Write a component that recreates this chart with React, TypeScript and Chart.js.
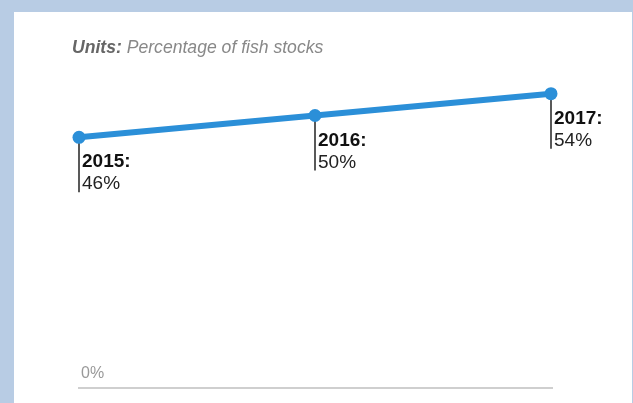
import React, { useEffect, useRef } from "react";
import { Chart, registerables } from "chart.js";

Chart.register(...registerables);

const years: string[] = ["2015", "2016", "2017"];
const values: number[] = [46, 50, 54];
const unitsLabel = "Units:";
const unitsText = " Percentage of fish stocks";
const baselineLabel = "0%";
const yMin = 0;
const yMax = 60;

const FONT = "'Liberation Sans', Arial, Helvetica, sans-serif";

const overlayPlugin = {
  id: "overlay",
  beforeDatasetsDraw(chart: any) {
    const ctx = chart.ctx as CanvasRenderingContext2D;
    const meta = chart.getDatasetMeta(0);
    ctx.save();
    meta.data.forEach((pt: any) => {
      ctx.strokeStyle = "#222";
      ctx.lineWidth = 1.5;
      ctx.beginPath();
      ctx.moveTo(pt.x, pt.y);
      ctx.lineTo(pt.x, pt.y + 55);
      ctx.stroke();
    });
    ctx.restore();
  },
  afterDatasetsDraw(chart: any) {
    const ctx = chart.ctx as CanvasRenderingContext2D;
    const { chartArea, scales } = chart;
    ctx.save();
    // units
    ctx.textBaseline = "alphabetic";
    ctx.textAlign = "left";
    ctx.font = `italic bold 17.6px ${FONT}`;
    ctx.fillStyle = "#666";
    ctx.fillText(unitsLabel, 58, 41);
    const w = ctx.measureText(unitsLabel).width;
    ctx.font = `italic 17.6px ${FONT}`;
    ctx.fillStyle = "#888";
    ctx.fillText(unitsText, 58 + w, 41);

    // baseline
    const y0 = scales.y.getPixelForValue(0);
    ctx.strokeStyle = "#cfcfcf";
    ctx.lineWidth = 2;
    ctx.beginPath();
    ctx.moveTo(chartArea.left - 1, y0);
    ctx.lineTo(chartArea.right + 2, y0);
    ctx.stroke();
    ctx.font = `16px ${FONT}`;
    ctx.fillStyle = "#999";
    ctx.fillText(baselineLabel, chartArea.left + 2, y0 - 10);

    // point labels
    const meta = chart.getDatasetMeta(0);
    meta.data.forEach((pt: any, i: number) => {
      const x = pt.x;
      const y = pt.y;
      ctx.fillStyle = "#111";
      ctx.font = `bold 19px ${FONT}`;
      ctx.fillText(years[i] + ":", x + 3, y + 30);
      ctx.fillStyle = "#222";
      ctx.font = `19px ${FONT}`;
      ctx.fillText(values[i] + "%", x + 3, y + 52);
    });
    ctx.restore();
  },
};

export default function App() {
  const ref = useRef<HTMLCanvasElement>(null);
  useEffect(() => {
    if (!ref.current) return;
    const chart = new Chart(ref.current, {
      type: "line",
      data: {
        labels: years,
        datasets: [
          {
            data: values,
            borderColor: "#2b8fd8",
            backgroundColor: "#2b8fd8",
            borderWidth: 6,
            pointRadius: 6.5,
            pointBackgroundColor: "#2b8fd8",
            pointBorderWidth: 0,
            tension: 0,
            clip: false as any,
          },
        ],
      },
      options: {
        animation: false,
        responsive: false,
        maintainAspectRatio: false,
        layout: { padding: { left: 65, right: 81, top: 49, bottom: 15 } },
        plugins: { legend: { display: false }, tooltip: { enabled: false }, title: { display: false } },
        scales: {
          x: { type: "category", display: false, offset: false },
          y: { display: false, min: yMin, max: yMax },
        },
      },
      plugins: [overlayPlugin],
    });
    return () => chart.destroy();
  }, []);
  return (
    <div style={{ position: "fixed", left: 0, top: 0, width: 633, height: 403, background: "#b8cce4", overflow: "hidden" }}>
      <div style={{ position: "absolute", left: 14, top: 12, width: 618, height: 391, background: "#fff" }}>
        <canvas ref={ref} width={618} height={391} style={{ display: "block", width: 618, height: 391 }} />
      </div>
    </div>
  );
}
